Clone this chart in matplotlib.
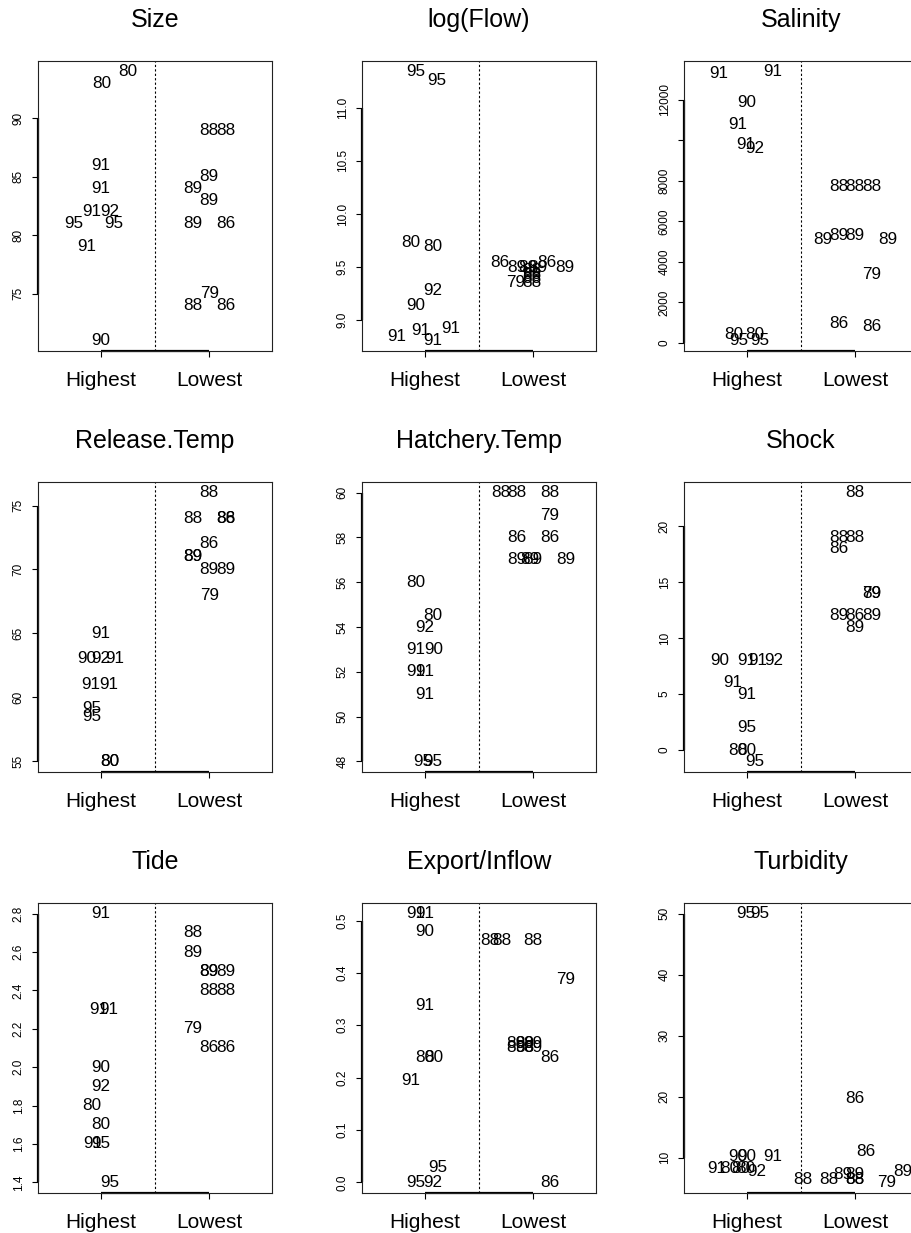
import matplotlib
matplotlib.use('Agg')
import matplotlib.pyplot as plt

plt.rcParams['font.family'] = ['Liberation Sans', 'DejaVu Sans']

# --------------------------------------------------------------
# Data: label (year), jittered x, y value
# x: 1 = Highest, 2 = Lowest
# --------------------------------------------------------------
size_lab = ['80', '80', '91', '91', '91', '92', '95', '95', '91', '90',
            '88', '88', '89', '89', '89', '89', '86', '79', '88', '86']
size_x = [1.01, 1.25, 1.00, 1.00, 0.92, 1.08, 0.75, 1.12, 0.87, 1.00,
          2.00, 2.15, 2.00, 1.85, 2.00, 1.85, 2.15, 2.00, 1.85, 2.15]
size_y = [93, 94, 86, 84, 82, 82, 81, 81, 79, 71,
          89, 89, 85, 84, 83, 81, 81, 75, 74, 74]

flow_lab = ['95', '95', '80', '80', '92', '90', '91', '91', '91', '91',
            '86', '89', '89', '89', '86', '89', '88', '88', '88', '88', '79']
flow_x = [0.92, 1.11, 0.87, 1.07, 1.07, 0.92, 0.74, 0.96, 1.07, 1.24,
          1.69, 1.85, 1.95, 2.04, 2.13, 2.29, 1.99, 1.99, 1.99, 1.99, 1.84]
flow_y = [11.34, 11.26, 9.73, 9.69, 9.28, 9.14, 8.85, 8.90, 8.81, 8.92,
          9.54, 9.50, 9.50, 9.50, 9.54, 9.50, 9.47, 9.43, 9.39, 9.35, 9.35]

sal_lab = ['91', '91', '90', '91', '91', '92', '80', '80', '95', '95',
           '88', '88', '88', '89', '89', '89', '89', '79', '86', '86']
sal_x = [0.74, 1.24, 1.00, 0.92, 0.99, 1.07, 0.88, 1.07, 0.93, 1.12,
         1.85, 2.00, 2.15, 1.70, 1.85, 2.00, 2.30, 2.15, 1.85, 2.15]
sal_y = [13270, 13380, 11870, 10800, 9810, 9610, 410, 410, 130, 130,
         7700, 7700, 7700, 5080, 5310, 5310, 5080, 3380, 960, 820]

rel_lab = ['91', '90', '92', '91', '91', '91', '95', '95', '80', '80',
           '88', '88', '88', '86', '86', '89', '89', '89', '89', '79']
rel_x = [1.00, 0.87, 1.00, 1.13, 0.91, 1.07, 0.92, 0.92, 1.08, 1.08,
         2.00, 1.85, 2.15, 2.15, 2.00, 1.85, 1.85, 2.00, 2.15, 2.00]
rel_y = [65, 63, 63, 63, 61, 61, 59.1, 58.5, 55, 55,
         76, 74, 74, 74, 72, 71, 71, 70, 70, 68]

hat_lab = ['80', '80', '92', '91', '90', '91', '91', '91', '95', '95',
           '88', '88', '88', '79', '86', '86', '89', '89', '89', '89']
hat_x = [0.92, 1.07, 1.00, 0.92, 1.08, 0.92, 1.00, 1.00, 0.98, 1.07,
         1.70, 1.85, 2.15, 2.15, 1.85, 2.15, 1.85, 1.97, 2.00, 2.30]
hat_y = [56, 54.5, 54, 53, 53, 52, 52, 51, 48, 48,
         60, 60, 60, 59, 58, 58, 57, 57, 57, 57]

shock_lab = ['90', '91', '91', '92', '91', '91', '95', '80', '80', '95',
             '88', '88', '88', '86', '79', '89', '89', '86', '89', '89']
shock_x = [0.75, 1.00, 1.10, 1.25, 0.87, 1.00, 1.00, 0.92, 1.00, 1.07,
           2.00, 1.85, 2.00, 1.85, 2.15, 2.15, 1.85, 2.00, 2.15, 2.00]
shock_y = [8, 8, 8, 8, 6, 5, 2, 0, 0, -1,
           23, 19, 19, 18, 14, 14, 12, 12, 12, 11]

tide_lab = ['91', '91', '91', '90', '92', '80', '80', '91', '95', '95',
            '88', '89', '89', '89', '89', '88', '88', '79', '86', '86']
tide_x = [1.00, 0.98, 1.07, 1.00, 1.00, 0.92, 1.00, 0.93, 1.00, 1.08,
          1.85, 1.85, 2.00, 2.00, 2.15, 2.00, 2.15, 1.85, 2.00, 2.15]
tide_y = [2.8, 2.3, 2.3, 2.0, 1.9, 1.8, 1.7, 1.6, 1.6, 1.4,
          2.7, 2.6, 2.5, 2.5, 2.5, 2.4, 2.4, 2.2, 2.1, 2.1]

exp_lab = ['91', '91', '90', '91', '80', '80', '91', '95', '95', '92',
           '88', '88', '88', '79', '89', '89', '89', '88', '89', '89', '86', '86']
exp_x = [0.92, 1.00, 1.00, 1.00, 1.00, 1.08, 0.87, 1.12, 0.92, 1.07,
         1.60, 1.71, 2.00, 2.30, 1.84, 1.84, 1.92, 1.92, 2.00, 2.00, 2.15, 2.15]
exp_y = [0.513, 0.513, 0.479, 0.338, 0.238, 0.238, 0.194, 0.028, 0.0, 0.0,
         0.462, 0.462, 0.462, 0.388, 0.265, 0.257, 0.265, 0.257, 0.265, 0.257, 0.238, 0.0]

turb_lab = ['95', '95', '90', '90', '91', '91', '80', '80', '80', '92',
            '86', '86', '88', '88', '89', '89', '88', '88', '79', '89']
turb_x = [0.99, 1.12, 0.92, 1.00, 1.24, 0.72, 0.84, 0.94, 0.99, 1.09,
          2.00, 2.10, 1.52, 1.76, 1.89, 2.00, 2.00, 2.00, 2.29, 2.44]
turb_y = [50, 50, 10.2, 10.2, 10.2, 8.3, 8.3, 8.3, 8.3, 7.7,
          19.7, 11, 6.5, 6.5, 7.2, 7.2, 6.5, 6.5, 6.0, 7.7]

groups = ['Highest', 'Lowest']

panels = [
    ('Size', size_lab, size_x, size_y, [75, 80, 85, 90], None),
    ('log(Flow)', flow_lab, flow_x, flow_y, [9.0, 9.5, 10.0, 10.5, 11.0],
     ['9.0', '9.5', '10.0', '10.5', '11.0']),
    ('Salinity', sal_lab, sal_x, sal_y, [0, 2000, 4000, 6000, 8000, 10000, 12000],
     ['0', '2000', '4000', '6000', '8000', '', '12000']),
    ('Release.Temp', rel_lab, rel_x, rel_y, [55, 60, 65, 70, 75], None),
    ('Hatchery.Temp', hat_lab, hat_x, hat_y, [48, 50, 52, 54, 56, 58, 60], None),
    ('Shock', shock_lab, shock_x, shock_y, [0, 5, 10, 15, 20], None),
    ('Tide', tide_lab, tide_x, tide_y, [1.4, 1.6, 1.8, 2.0, 2.2, 2.4, 2.6, 2.8],
     ['1.4', '1.6', '1.8', '2.0', '2.2', '2.4', '2.6', '2.8']),
    ('Export/Inflow', exp_lab, exp_x, exp_y, [0.0, 0.1, 0.2, 0.3, 0.4, 0.5],
     ['0.0', '0.1', '0.2', '0.3', '0.4', '0.5']),
    ('Turbidity', turb_lab, turb_x, turb_y, [10, 20, 30, 40, 50], None),
]

# --------------------------------------------------------------
# Layout (pixels), R-like 3x3 grid, right column runs off the page
# --------------------------------------------------------------
W, H = 911, 1233
col_left = [38, 362, 684]
row_top = [61, 482, 903]
ax_w, ax_h = 234, 290

fig = plt.figure(figsize=(W / 100, H / 100), dpi=100)

for i, (title, lab, xs, ys, yticks, yticklabels) in enumerate(panels):
    r, c = divmod(i, 3)
    rect = [col_left[c] / W, 1 - (row_top[r] + ax_h) / H, ax_w / W, ax_h / H]
    ax = fig.add_axes(rect)

    for t, x, y in zip(lab, xs, ys):
        ax.text(x, y, t, ha='center', va='center', fontsize=12.3)

    # R style limits: 4% padding
    lo, hi = min(ys), max(ys)
    pad = 0.04 * (hi - lo)
    ax.set_ylim(lo - pad, hi + pad)
    ax.set_xlim(0.42, 2.58)

    ax.axvline(1.5, color='black', lw=0.8, ls=(0, (2, 2)))

    ax.set_xticks([1, 2])
    ax.set_xticklabels(groups, fontsize=15)
    ax.set_yticks(yticks)
    if yticklabels is not None:
        ax.set_yticklabels(yticklabels)
    ax.tick_params(axis='x', length=4.5, width=0.8, pad=10)
    ax.tick_params(axis='y', length=4.5, width=0.8, pad=5, labelsize=8.5,
                   labelrotation=90)
    for tl in ax.get_yticklabels():
        tl.set_va('center')

    for sp in ax.spines.values():
        sp.set_linewidth(0.8)
        sp.set_color('#222222')

    # axis lines drawn over the box, tick range only (R axis())
    ax.plot([0.42, 0.42], [yticks[0], yticks[-1]], color='black', lw=1.6,
            clip_on=False, solid_capstyle='butt')
    ax.plot([1, 2], [lo - pad, lo - pad], color='black', lw=1.6,
            clip_on=False, solid_capstyle='butt')

    ax.text(0.5, 1 + 41 / ax_h, title, transform=ax.transAxes,
            ha='center', va='center', fontsize=18)

fig.savefig('out.png', dpi=100)
